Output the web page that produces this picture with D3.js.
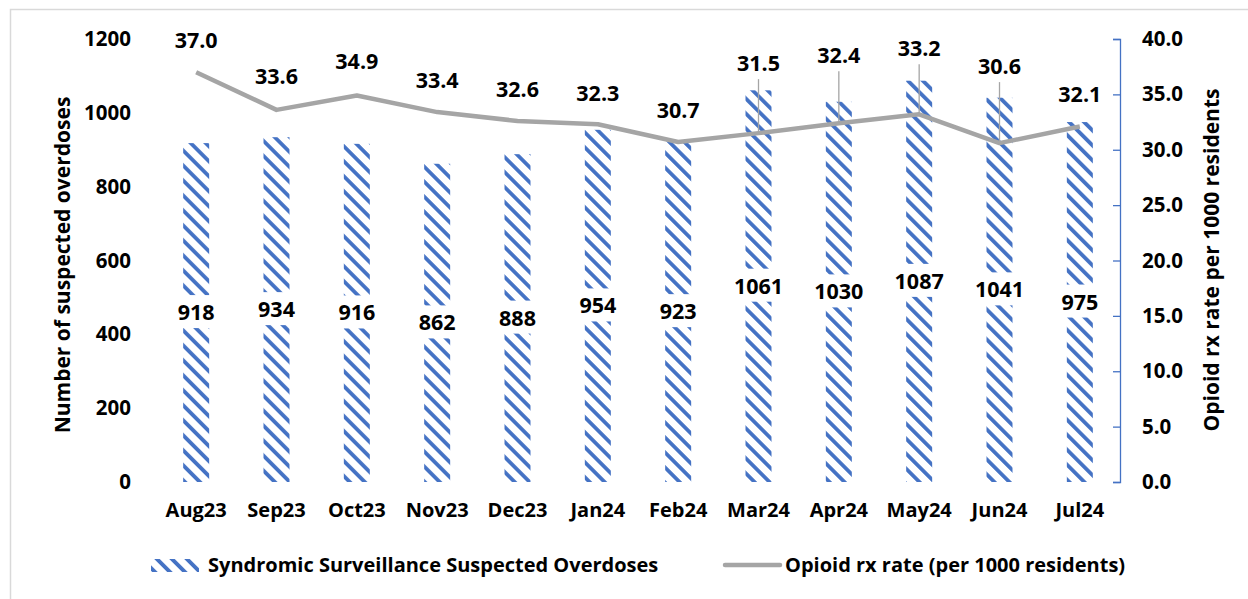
<!DOCTYPE html>
<html><head><meta charset="utf-8">
<script src="https://cdn.jsdelivr.net/npm/d3@7"></script>
<style>
body{margin:0;background:#fff;}
text{font-family:"Open Sans",sans-serif;font-weight:700;fill:#000;}
</style></head><body>
<svg id="c" width="1248" height="599"></svg>
<script>
const months = ["Aug23","Sep23","Oct23","Nov23","Dec23","Jan24","Feb24","Mar24","Apr24","May24","Jun24","Jul24"];
const overdoses = [918,934,916,862,888,954,923,1061,1030,1087,1041,975];
const rxRate = [37.0,33.6,34.9,33.4,32.6,32.3,30.7,31.5,32.4,33.2,30.6,32.1];
const leftTicks = [0,200,400,600,800,1000,1200];
const rightTicks = [0,5,10,15,20,25,30,35,40];
// layout: pixel lift of each rate label above its point
const rateLabelLift = [32,33,34,32,31,31,32,70,68,66,77,32];

const svg = d3.select("#c");
const m = {left:156,right:1120,top:39,bottom:482};
svg.append("rect").attr("x",10.5).attr("y",9.5).attr("width",1260).attr("height",620)
  .attr("fill","#fff").attr("stroke","#d9d9d9").attr("stroke-width",1.5);

const defs = svg.append("defs");
const pat = defs.append("pattern").attr("id","hatch").attr("patternUnits","userSpaceOnUse")
  .attr("width",10.6).attr("height",10.6).attr("patternTransform","rotate(-45)");
pat.append("rect").attr("x",0).attr("y",0).attr("width",3.8).attr("height",10.6).attr("fill","#4472C4");

const x = d3.scaleBand().domain(months).range([m.left,m.right]).padding(0);
const yL = d3.scaleLinear().domain([0,1200]).range([m.bottom,m.top]);
const yR = d3.scaleLinear().domain([0,40]).range([m.bottom,m.top]);
const bw = 26;

svg.append("g").selectAll("rect").data(months).join("rect")
  .attr("x",d=>x(d)+x.bandwidth()/2-bw/2).attr("width",bw)
  .attr("y",(d,i)=>yL(overdoses[i])).attr("height",(d,i)=>yL(0)-yL(overdoses[i]))
  .attr("fill","url(#hatch)");

const gl = svg.append("g").attr("transform",`translate(${m.left},0)`)
  .call(d3.axisLeft(yL).tickValues(leftTicks).tickSize(0).tickPadding(25).tickFormat(d3.format("d")));
gl.select(".domain").remove();
gl.selectAll("text").attr("font-family",null).style("font-size","20.5px");

const gr = svg.append("g").attr("transform",`translate(${m.right},0)`)
  .call(d3.axisRight(yR).tickValues(rightTicks).tickSizeInner(-7).tickSizeOuter(-7).tickPadding(22).tickFormat(d3.format(".1f")));
gr.select(".domain").attr("stroke","#4472C4").attr("stroke-width",1.3);
gr.selectAll("line").attr("stroke","#4472C4").attr("stroke-width",1.3);
gr.selectAll("text").attr("font-family",null).style("font-size","20.5px");

const gx = svg.append("g").attr("transform",`translate(0,${m.bottom})`)
  .call(d3.axisBottom(x).tickSize(0).tickPadding(21));
gx.select(".domain").remove();
gx.selectAll("text").attr("font-family",null).style("font-size","20px");

const bl = svg.append("g");
months.forEach((mo,i)=>{
  const cx = x(mo)+x.bandwidth()/2, cy = (yL(overdoses[i])+yL(0))/2;
  const t = bl.append("text").attr("x",cx).attr("y",cy).attr("text-anchor","middle")
    .attr("dy","0.35em").style("font-size","21.5px").text(overdoses[i]);
  const bb = t.node().getBBox();
  bl.insert("rect","text").attr("x",bb.x-4).attr("y",bb.y-2).attr("width",bb.width+8).attr("height",bb.height+4).attr("fill","#fff");
});

const line = d3.line().x((d,i)=>x(months[i])+x.bandwidth()/2).y(d=>yR(d));
svg.append("path").datum(rxRate).attr("d",line).attr("fill","none")
  .attr("stroke","#A5A5A5").attr("stroke-width",4.5).attr("stroke-linejoin","round");

const rl = svg.append("g");
rxRate.forEach((v,i)=>{
  const cx = x(months[i])+x.bandwidth()/2, py = yR(v), ly = py-rateLabelLift[i];
  if(rateLabelLift[i]>40){
    rl.append("line").attr("x1",cx).attr("x2",cx).attr("y1",ly+16).attr("y2",py)
      .attr("stroke","#A5A5A5").attr("stroke-width",1.3);
  }
  rl.append("text").attr("x",cx).attr("y",ly).attr("dy","0.35em").attr("text-anchor","middle")
    .style("font-size","21.5px").text(d3.format(".1f")(v));
});

svg.append("text").attr("transform","translate(63,265) rotate(-90)").attr("text-anchor","middle")
  .attr("dy","0.35em").style("font-size","21px").text("Number of suspected overdoses");
svg.append("text").attr("transform","translate(1212,260) rotate(-90)").attr("text-anchor","middle")
  .attr("dy","0.35em").style("font-size","21px").text("Opioid rx rate per 1000 residents");

const lg = svg.append("g");
lg.append("rect").attr("x",151).attr("y",559).attr("width",48).attr("height",13).attr("fill","url(#hatch)");
lg.append("text").attr("x",208).attr("y",565).attr("dy","0.35em").style("font-size","20px")
  .text("Syndromic Surveillance Suspected Overdoses");
lg.append("line").attr("x1",725).attr("x2",780).attr("y1",565).attr("y2",565)
  .attr("stroke","#A5A5A5").attr("stroke-width",4.5).attr("stroke-linecap","round");
lg.append("text").attr("x",785).attr("y",565).attr("dy","0.35em").style("font-size","20px")
  .text("Opioid rx rate (per 1000 residents)");
</script></body></html>
